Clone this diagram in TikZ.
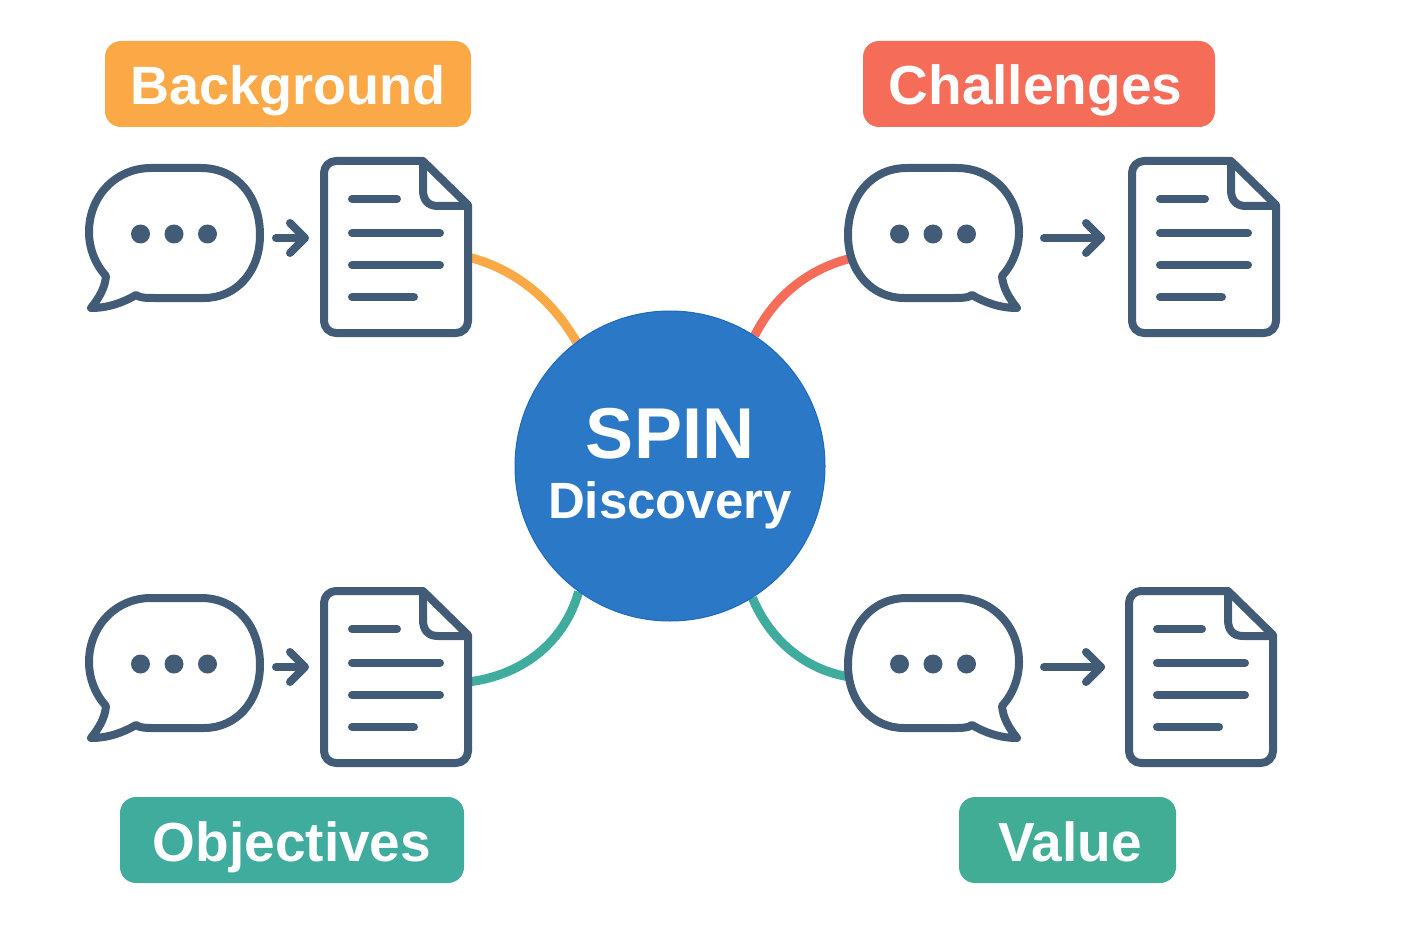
\documentclass[tikz,border=0pt]{standalone}
\usepackage{fontspec}
\setmainfont{Liberation Sans}
\usetikzlibrary{backgrounds}

\definecolor{iconblue}{HTML}{425C77}
\definecolor{hubblue}{HTML}{2A78C6}
\definecolor{hubedge}{HTML}{1F68BE}
\definecolor{bgorange}{HTML}{FBA847}
\definecolor{chred}{HTML}{F56C59}
\definecolor{objteal}{HTML}{3FAC9E}
\definecolor{valgreen}{HTML}{41AD94}

\tikzset{
  outline/.style = {draw = iconblue, line width = 8pt, line cap = round,
  line join = round},
  link/.style = {line width = 9pt},
  tag/.style = {rounded corners = 16pt, text = white, inner sep = 0pt,
  minimum height = 86pt, text height = 42pt, text depth = 0pt,
  font = \fontsize{55}{60}\selectfont\bfseries},
  speech/.pic = {
    \draw[outline] (-23, -65) -- (27, -65) .. controls (63, -65) and (86, -36)
    .. (86, 2) .. controls (86, 39) and (62, 65) .. (30, 65) -- (-20, 65)
    .. controls (-28, 65) and (-34, 65) .. (-38, 62)
    .. controls (-50, 69) and (-65, 75) .. (-83, 75)
    .. controls (-75, 65) and (-69, 55) .. (-68, 43)
    .. controls (-79, 31) and (-85, 15) .. (-85, -1)
    .. controls (-85, -37) and (-58, -65) .. (-23, -65) -- cycle;
  },
  dots/.pic = {
    \fill[iconblue] (-33.5, 1) circle[radius = 9.5];
    \fill[iconblue] (0, 1) circle[radius = 9.5];
    \fill[iconblue] (33.5, 1) circle[radius = 9.5];
  },
  doc/.pic = {
    \draw[outline] (336, 161) -- (423, 161) -- (468, 205) -- (468, 321)
    arc[start angle = 0, end angle = 90, radius = 12] -- (336, 333)
    arc[start angle = 90, end angle = 180, radius = 12] -- (324, 173)
    arc[start angle = 180, end angle = 270, radius = 12] -- cycle;
    \draw[outline] (423, 161) -- (423, 190) .. controls (423, 200) and (428, 206)
    .. (438, 206) -- (468, 206);
    \draw[outline] (352, 199) -- (397, 199);
    \draw[outline] (352, 233) -- (440, 233);
    \draw[outline] (352, 265) -- (440, 265);
    \draw[outline] (352, 297) -- (414, 297);
  },
  shortarrow/.pic = {
    \draw[outline] (0, 0) -- (28, 0);
    \draw[outline] (14, -15) -- (29, 0) -- (14, 15);
  },
  longarrow/.pic = {
    \draw[outline] (0, 0) -- (57, 0);
    \draw[outline] (42, -15) -- (57, 0) -- (42, 15);
  }
}

\begin{document}
\begin{tikzpicture}[x = 1pt, y = -1pt]
  \useasboundingbox (0, 0) rectangle (1404, 933);

  \node[circle, fill = hubblue, draw = hubedge, line width = 1pt, inner sep = 0pt,
  minimum size = 310pt] (spin) at (670, 466) {};
  \node[text = white, font = \fontsize{72}{80}\selectfont\bfseries, inner sep = 0pt]
  (spinText) at (670, 434) {SPIN};
  \node[text = white, font = \fontsize{51}{56}\selectfont\bfseries, inner sep = 0pt,
  anchor = base] (discoveryText) at (670, 518) {Discovery};

  \coordinate (bgEnd) at (468, 257);
  \coordinate (chEnd) at (852, 258);
  \coordinate (objEnd) at (468, 682);
  \coordinate (valEnd) at (850, 677);

  \begin{scope}[on background layer]
    \draw[link, bgorange] (bgEnd) .. controls (520, 270) and (555, 305) .. (spin.127);
    \draw[link, chred] (chEnd) .. controls (810, 268) and (775, 295) .. (spin.57);
    \draw[link, objteal] (objEnd) .. controls (525, 675) and (565, 640) .. (spin.234);
    \draw[link, objteal] (valEnd) .. controls (805, 670) and (770, 640) .. (spin.302);
  \end{scope}

  \node[tag, fill = bgorange, minimum width = 366pt,
  font = \fontsize{54}{60}\selectfont\bfseries] (bgTag) at (288, 84) {Background};
  \node[tag, fill = chred, minimum width = 352pt] (chTag) at (1039, 84)
  {Challenges\hspace*{7pt}};
  \node[tag, fill = objteal, minimum width = 344pt] (objTag) at (292, 840) {Objectives};
  \node[tag, fill = valgreen, minimum width = 217pt] (valTag) at (1067.5, 840)
  {\hspace*{5pt}Value};

  \pic at (174, 233) {speech};
  \pic at (174, 233) {dots};
  \pic at (276, 238) {shortarrow};
  \pic at (0, 0) {doc};

  \pic[xscale = -1] at (934, 233) {speech};
  \pic at (933, 233) {dots};
  \pic at (1044, 238) {longarrow};
  \pic at (808, 0) {doc};

  \pic at (174, 663) {speech};
  \pic at (174, 663) {dots};
  \pic at (276, 667) {shortarrow};
  \pic at (0, 430) {doc};

  \pic[xscale = -1] at (934, 663) {speech};
  \pic at (933, 663) {dots};
  \pic at (1044, 667) {longarrow};
  \pic at (805, 430) {doc};
\end{tikzpicture}
\end{document}
